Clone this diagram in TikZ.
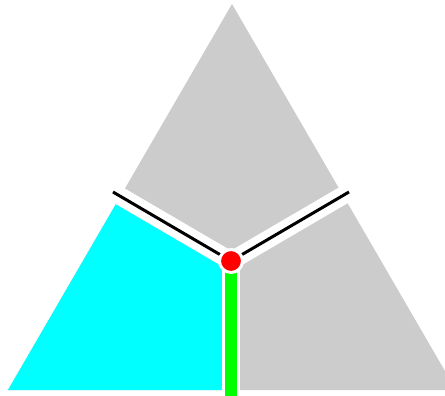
\documentclass[tikz,border=0pt]{standalone}
\definecolor{lgrey}{HTML}{CCCCCC}
\definecolor{aqua}{HTML}{00FFFF}
\definecolor{lime}{HTML}{00FF00}
\definecolor{dotred}{HTML}{FF0000}
\tikzset{
  gap/.style={white,line width=18pt},
  wall/.style={black,line width=3pt},
  greenwall/.style={lime,line width=12pt}
}
\begin{document}
\begin{tikzpicture}[x=1pt,y=-1pt]
\useasboundingbox (0,0) rectangle (445,396);
\clip (0,0) rectangle (445,396);
\coordinate (A) at (232,4);
\coordinate (L) at (8,390);
\coordinate (R) at (456,390);
\coordinate (O) at (231,261);
\coordinate (ml) at (113,192);
\coordinate (mr) at (349,192);
\coordinate (mb) at (231,398);
\coordinate (el) at (120,197);
\coordinate (eb) at (231,390);
\fill[lgrey] (A) -- (L) -- (R) -- cycle;
\fill[aqua] (O) -- (el) -- (L) -- (eb) -- cycle;
\draw[gap] (O) -- (ml);
\draw[gap] (O) -- (mr);
\draw[gap] (O) -- (mb);
\draw[wall] (O) -- (ml);
\draw[wall] (O) -- (mr);
\draw[greenwall] (O) -- (mb);
\fill[dotred,draw=white,line width=3pt] (O) circle (11.5pt);
\end{tikzpicture}
\end{document}
